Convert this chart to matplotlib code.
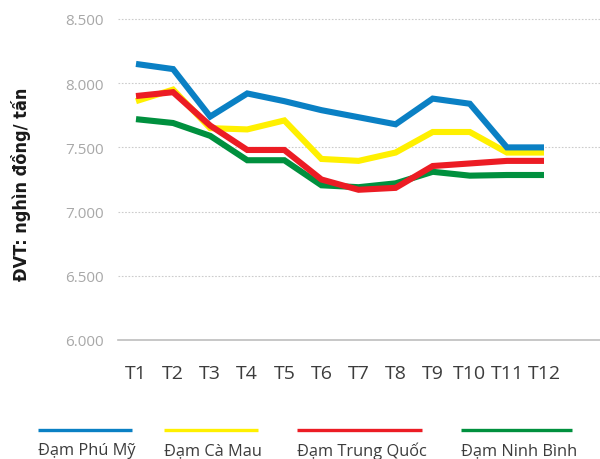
import matplotlib
matplotlib.use("Agg")
import matplotlib.pyplot as plt
from matplotlib.lines import Line2D

plt.rcParams['font.family'] = ['Open Sans', 'Noto Sans', 'DejaVu Sans']

months = ["T1", "T2", "T3", "T4", "T5", "T6", "T7", "T8", "T9", "T10", "T11", "T12"]
phu_my = [8150, 8110, 7740, 7920, 7860, 7790, 7735, 7680, 7880, 7840, 7500, 7500]
ca_mau = [7860, 7950, 7650, 7640, 7710, 7410, 7395, 7460, 7620, 7620, 7460, 7460]
trung_quoc = [7900, 7930, 7670, 7480, 7480, 7250, 7170, 7185, 7355, 7375, 7395, 7395]
ninh_binh = [7720, 7690, 7590, 7400, 7400, 7205, 7190, 7220, 7310, 7280, 7285, 7285]
yticks = [6000, 6500, 7000, 7500, 8000, 8500]
ytick_labels = ["6.000", "6.500", "7.000", "7.500", "8.000", "8.500"]

series = [
    ("Đạm Phú Mỹ", phu_my, "#0a80c4"),
    ("Đạm Cà Mau", ca_mau, "#fff000"),
    ("Đạm Trung Quốc", trung_quoc, "#ec1c24"),
    ("Đạm Ninh Bình", ninh_binh, "#00903e"),
]
draw_order = [3, 1, 2, 0]

W, H = 600, 460
fig = plt.figure(figsize=(6.0, 4.6), dpi=100)
ax_left, ax_right, ax_top, ax_bottom = 118, 600, 20, 341
ax = fig.add_axes([ax_left / W, 1 - ax_bottom / H, (ax_right - ax_left) / W, (ax_bottom - ax_top) / H])

x = list(range(len(months)))
for i in draw_order:
    name, vals, col = series[i]
    ax.plot(x, vals, color=col, lw=4.4, solid_joinstyle='miter', solid_capstyle='butt', zorder=3 + draw_order.index(i))

ax.set_ylim(6000, 8500)
ax.set_xlim(-0.485, 12.51)
ax.set_yticks(yticks)
ax.set_yticklabels(ytick_labels, color="#a8a8a8", fontsize=11)
ax.set_xticks(x)
ax.set_xticklabels(months, color="#3c3c3c", fontsize=14)
ax.tick_params(axis='y', length=0, pad=10)
ax.tick_params(axis='x', length=0, pad=17)

for s in ax.spines.values():
    s.set_visible(False)
for v in yticks:
    if v == 6000:
        ax.axhline(v, color="#bdbdbd", lw=1.2, zorder=1, clip_on=False)
    else:
        ax.axhline(v, color="#cccccc", lw=0.8, ls=(0, (1.5, 1.5)), zorder=1, clip_on=False)

fig.text(21 / W, 1 - 184 / H, "ĐVT: nghìn đồng/ tấn", rotation=90, ha='center', va='center',
         fontsize=13, fontweight='bold', fontstretch='condensed', color="#1a1a1a",
         family=['DejaVu Sans'])

legend_pos = [(38, 132), (164, 258), (297, 422), (461, 572)]
for (name, vals, col), (x0, x1) in zip(series, legend_pos):
    fig.add_artist(Line2D([x0 / W, x1 / W], [1 - 431 / H, 1 - 431 / H], color=col, lw=2.4,
                          solid_capstyle='butt', transform=fig.transFigure))
    fig.text(x0 / W, 1 - 451 / H, name, ha='left', va='center', fontsize=11.8, color="#3c3c3c")

fig.savefig("out.png", dpi=100, facecolor="white")
